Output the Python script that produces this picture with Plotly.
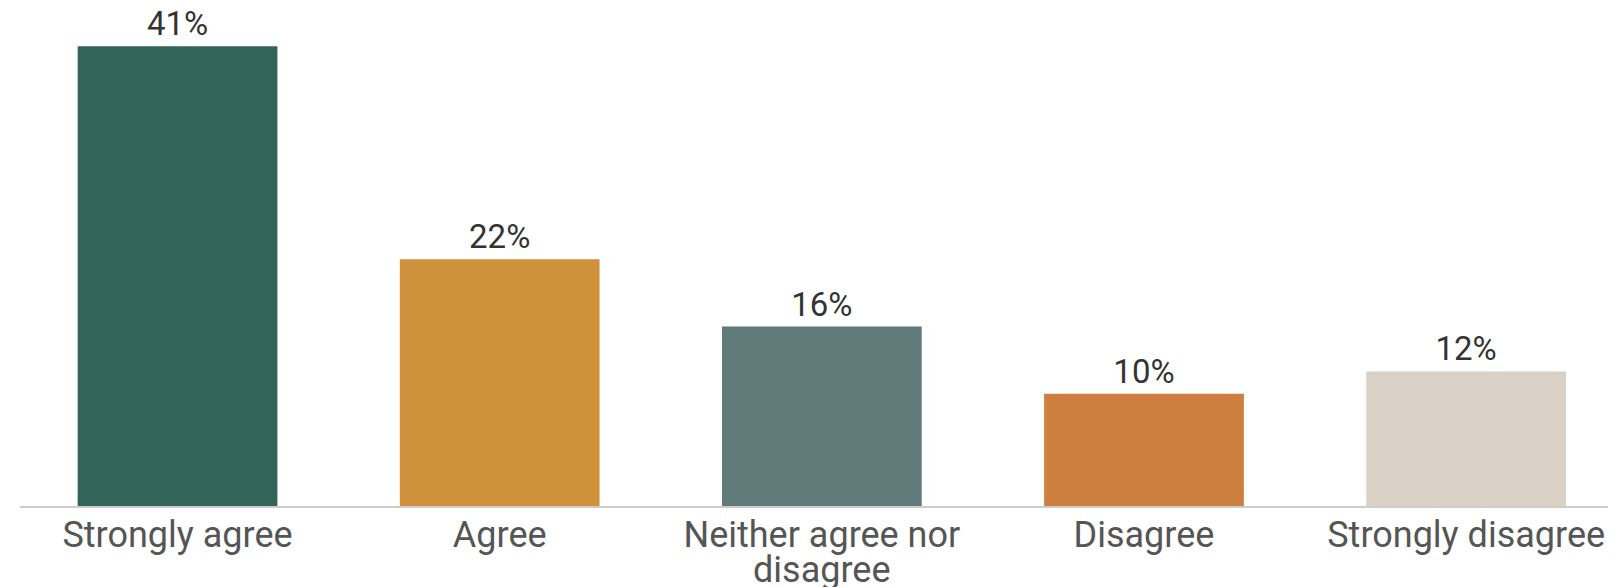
import plotly.graph_objects as go

label_lines = [["Strongly agree"], ["Agree"], ["Neither agree nor", "disagree"], ["Disagree"], ["Strongly disagree"]]
values = [41, 22, 16, 10, 12]
labels = ["41%", "22%", "16%", "10%", "12%"]
colors = ["#32645A", "#D0913C", "#5F7A78", "#CD803D", "#D9D1C6"]

xs = list(range(len(values)))

fig = go.Figure(go.Bar(
    x=xs,
    y=values,
    text=labels,
    textposition="outside",
    textfont=dict(family="Roboto", size=33, color="#333333"),
    marker=dict(color=colors, line=dict(width=0)),
    cliponaxis=False,
    width=0.62,
))

fig.update_layout(
    width=1616, height=587,
    margin=dict(l=12, r=0, t=0, b=89),
    plot_bgcolor="white", paper_bgcolor="white",
    showlegend=False,
    font=dict(family="Roboto"),
)
fig.update_xaxes(
    tickmode="array", tickvals=xs, ticktext=[l[0] for l in label_lines],
    range=[-0.489, 4.49],
    showline=True, linecolor="#CFCCCC", linewidth=2,
    showgrid=False, ticks="", automargin=False, ticklabelstandoff=-4,
    tickfont=dict(family="Roboto", size=36, color="#555555"),
)
fig.update_yaxes(range=[0, 44.4], visible=False, showgrid=False, automargin=False)

for x, lines in zip(xs, label_lines):
    for i, line in enumerate(lines[1:], start=1):
        fig.add_annotation(
            x=x, xref="x", y=0, yref="paper", yanchor="top",
            yshift=-6 - 35 * i, text=line, showarrow=False,
            font=dict(family="Roboto", size=36, color="#555555"),
        )

fig.write_html("out.html")
